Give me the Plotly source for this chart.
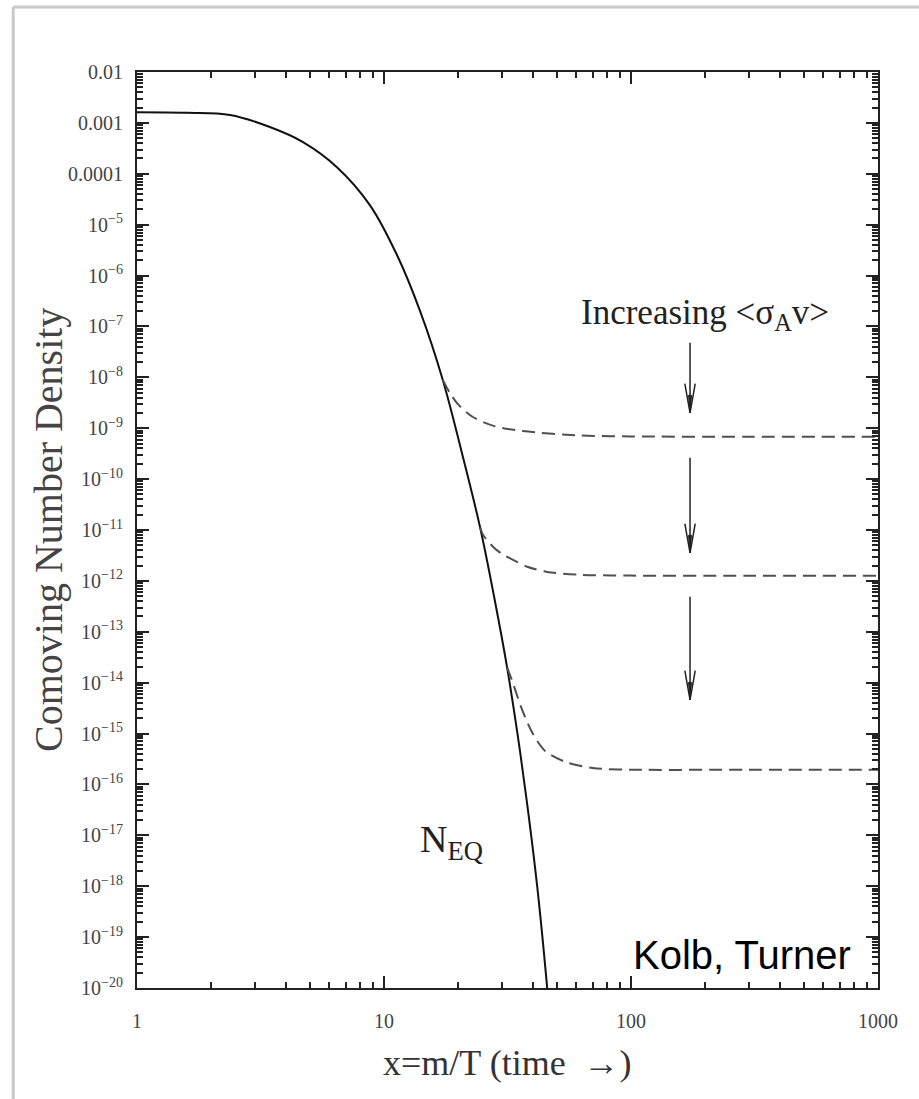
import plotly.graph_objects as go

# ---------------- data ----------------
# Equilibrium curve N_EQ
neq_x = [1.0, 1.6, 2.38, 3.45, 4.7, 6.45, 8.78, 11.3, 14.0, 17.3, 20.6, 24.5, 28.0, 31.5, 34.7, 37.9, 41.7, 45.7, 46.5]
neq_y = [1.62e-3, 1.58e-3, 1.43e-3, 8.3e-4, 4.2e-4, 1.35e-4, 2.4e-5, 2.5e-6, 2.0e-7, 8.9e-9, 3.5e-10, 1.12e-11, 4.5e-13, 2.0e-14, 1.0e-15, 4.5e-17, 1.0e-18, 1.1e-20, 4.0e-21]

# Freeze-out curves (dashed), one per <sigma_A v>
fo1_x = [17.3, 18.5, 20.0, 22.9, 28.0, 36.5, 62.0, 100.0, 300.0, 1000.0]
fo1_y = [8.9e-9, 4.9e-9, 2.9e-9, 1.66e-9, 1.1e-9, 8.8e-10, 7.2e-10, 6.9e-10, 6.8e-10, 6.8e-10]

fo2_x = [24.5, 25.2, 27.6, 30.0, 33.3, 38.0, 45.7, 62.0, 100.0, 300.0, 1000.0]
fo2_y = [1.12e-11, 8.0e-12, 4.7e-12, 3.4e-12, 2.6e-12, 1.9e-12, 1.5e-12, 1.32e-12, 1.27e-12, 1.26e-12, 1.26e-12]

fo3_x = [31.5, 33.0, 36.0, 40.0, 45.0, 55.0, 70.0, 100.0, 300.0, 1000.0]
fo3_y = [2.0e-14, 1.1e-14, 3.2e-15, 1.0e-15, 4.5e-16, 2.7e-16, 2.1e-16, 1.95e-16, 1.95e-16, 1.95e-16]

# tick labels
x_tickvals = [1, 10, 100, 1000]
x_ticktext = ["1", "10", "100", "1000"]
y_exps = list(range(-2, -21, -1))
y_ticktext = ["0.01", "0.001", "0.0001"] + ["10<sup>\u2212%d</sup>" % (-e) for e in range(-5, -21, -1)]

# arrows ("Increasing <sigma v>"): x position and (top, bottom) in log10 units
arrow_logx = 2.239
arrow_spans = [(-7.32, -8.70), (-9.58, -11.45), (-12.31, -14.34)]

# ---------------- figure ----------------
XR = (0.0, 3.0)
YR = (-20.0, -2.0)


def px_(lx):
    return (lx - XR[0]) / (XR[1] - XR[0])


def py_(ly):
    return (ly - YR[0]) / (YR[1] - YR[0])


fig = go.Figure()

fig.add_trace(go.Scatter(x=neq_x, y=neq_y, mode="lines",
                         line=dict(color="#111111", width=2, shape="spline", smoothing=1.0),
                         showlegend=False, hoverinfo="skip"))
for fx, fy in [(fo1_x, fo1_y), (fo2_x, fo2_y), (fo3_x, fo3_y)]:
    fig.add_trace(go.Scatter(x=fx, y=fy, mode="lines",
                             line=dict(color="#505050", width=2, dash="13px,7px", shape="spline", smoothing=0.8),
                             showlegend=False, hoverinfo="skip"))

shapes = []
# light grey frame remnants (top and left)
shapes.append(dict(type="line", xref="paper", yref="paper", x0=-0.167, x1=1.06, y0=1.071, y1=1.071,
                   line=dict(color="#c8c8c8", width=3)))
shapes.append(dict(type="line", xref="paper", yref="paper", x0=-0.167, x1=-0.167, y0=1.071, y1=-0.13,
                   line=dict(color="#c8c8c8", width=3)))

hw = 0.007   # head half width (paper)
hl = 0.032   # head length (paper)
for top, bot in arrow_spans:
    xa = px_(arrow_logx)
    yt, yb = py_(top), py_(bot)
    shapes.append(dict(type="line", xref="paper", yref="paper", x0=xa, x1=xa, y0=yt, y1=yb,
                       line=dict(color="#222222", width=1.5)))
    shapes.append(dict(type="path", xref="paper", yref="paper",
                       path="M %f,%f L %f,%f L %f,%f" % (xa - hw, yb + hl, xa, yb, xa + hw, yb + hl),
                       line=dict(color="#222222", width=1.5)))
    shapes.append(dict(type="path", xref="paper", yref="paper",
                       path="M %f,%f L %f,%f L %f,%f Z" % (xa - 0.002, yb + hl * 0.6, xa, yb, xa + 0.002, yb + hl * 0.6),
                       fillcolor="#222222", line=dict(color="#222222", width=1)))

serif = "Liberation Serif"
annotations = [
    dict(text="Increasing &lt;\u03c3<sub>A</sub>v&gt;", xref="paper", yref="paper",
         x=px_(2.30), y=py_(-6.77), showarrow=False, xanchor="center", yanchor="middle",
         font=dict(family=serif, size=35, color="#222222")),
    dict(text="N<sub>EQ</sub>", xref="paper", yref="paper",
         x=px_(1.275), y=py_(-17.13), showarrow=False, xanchor="center", yanchor="middle",
         font=dict(family=serif, size=38, color="#222222")),
    dict(text="Kolb, Turner", xref="paper", yref="paper",
         x=0.966, y=0.036, showarrow=False, xanchor="right", yanchor="middle",
         font=dict(family="Liberation Sans", size=40, color="#000000")),
    dict(text="Comoving Number Density", xref="paper", yref="paper",
         x=(48 - 137) / 741, y=0.5, showarrow=False, textangle=-90, xanchor="center", yanchor="middle",
         font=dict(family=serif, size=40, color="#444444")),
    dict(text="x=m/T (time  \u2192)", xref="paper", yref="paper",
         x=0.5, y=-0.082, showarrow=False, xanchor="center", yanchor="middle",
         font=dict(family=serif, size=36, color="#333333")),
]

axis_common = dict(showline=True, linewidth=2, linecolor="#222222", mirror="allticks",
                   ticks="inside", tickcolor="#222222", tickwidth=2, ticklen=12,
                   showgrid=False, zeroline=False)

fig.update_layout(
    width=919, height=1099,
    margin=dict(l=137, r=41, t=72, b=111),
    paper_bgcolor="white", plot_bgcolor="white",
    shapes=shapes, annotations=annotations,
    xaxis=dict(type="log", range=list(XR), tickvals=x_tickvals, ticktext=x_ticktext,
               tickfont=dict(family=serif, size=20, color="#444444"), ticklabelstandoff=14,
               minor=dict(ticks="inside", ticklen=6, tickcolor="#222222", tickwidth=1.5, dtick="D1", showgrid=False),
               **axis_common),
    yaxis=dict(type="log", range=list(YR), tickvals=[10.0 ** e for e in y_exps], ticktext=y_ticktext,
               tickfont=dict(family=serif, size=20, color="#444444"), ticklabelstandoff=8,
               minor=dict(ticks="inside", ticklen=6, tickcolor="#222222", tickwidth=1.5, dtick="D1", showgrid=False),
               **axis_common),
)

fig.write_html("out.html")
